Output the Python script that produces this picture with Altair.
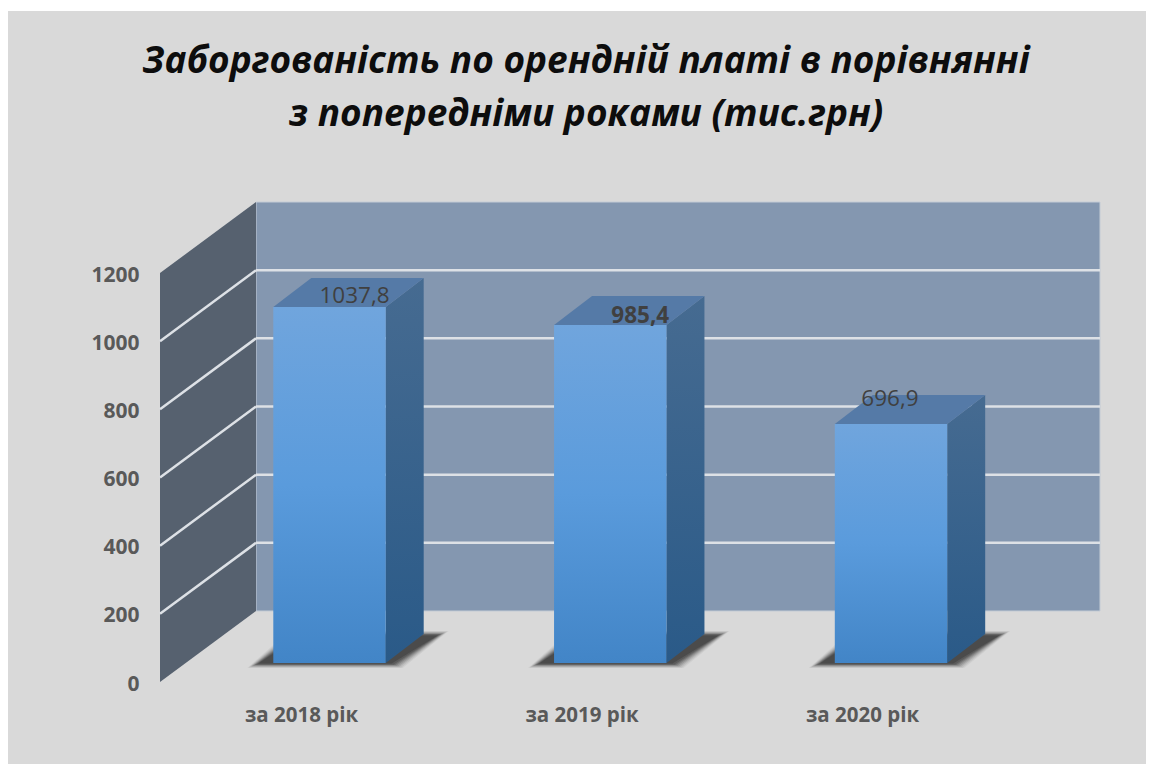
import altair as alt
import pandas as pd

# ---- values ----
categories = ["за 2018 рік", "за 2019 рік", "за 2020 рік"]
values = [1037.8, 985.4, 696.9]
value_labels = ["1037,8", "985,4", "696,9"]
label_bold = [False, True, False]
y_ticks = [0, 200, 400, 600, 800, 1000, 1200]
title_lines = ["Заборгованість по орендній платі в порівнянні",
               "з попередніми роками (тис.грн)"]

# ---- projection of the pseudo-3D scene (image pixels) ----
W, H = 1138, 756
LEFT, RIGHT, TOP, BASE = 160, 1100, 202, 682
PX_PER_VALUE = 0.3408
PX_PER_CAT = 280.5
CAT0_PX = 301
WALL_DX, WALL_DY = 96, 71
BAR_FIRST_PX = 329.5
BAR_STEP_PX = 280.75
BAR_HALF = 56.2
BAR_DEPTH_DX, BAR_DEPTH_DY = 38, 29
BAR_BASE_PX = 663
BAR_SCALE = 0.343
LABEL_SHIFT = [(25, -11), (30, -9), (-1, -25)]


def xu(px):
    return (px - CAT0_PX) / PX_PER_CAT


def yu(px):
    return (BASE - px) / PX_PER_VALUE


cat_expr = "[" + ",".join(f"'{c}'" for c in categories) + "][datum.value]"
x_scale = alt.Scale(domain=[xu(LEFT), xu(RIGHT)], nice=False, zero=False)
y_scale = alt.Scale(domain=[0, yu(TOP)], nice=False, zero=False)
x_axis = alt.Axis(values=[0, 1, 2], labelExpr=cat_expr, title=None, grid=False, domain=False,
                  ticks=False, labelFont="Open Sans", labelFontWeight="bold", labelFontSize=20.5,
                  labelColor="#595959", labelPadding=23)
y_axis = alt.Axis(values=y_ticks, title=None, grid=False, domain=False, ticks=False, format="d",
                  labelFont="Open Sans", labelFontWeight="bold", labelFontSize=21,
                  labelColor="#595959", labelPadding=21, labelOffset=2)
X = alt.X("x:Q", scale=x_scale, axis=x_axis)
Y = alt.Y("y:Q", scale=y_scale, axis=y_axis)
X2 = alt.X2("x2:Q")
Y2 = alt.Y2("y2:Q")


def grad(stops):
    return alt.Gradient(gradient="linear", x1=0, x2=0, y1=0, y2=1,
                        stops=[alt.GradientStop(color=c, offset=o) for o, c in stops])


def para_v(px0, top0, bot0, px1, top1, bot1):
    """Parallelogram with vertical sides."""
    return pd.DataFrame({"x": [xu(px0), xu(px1)], "y": [yu(top0), yu(top1)], "y2": [yu(bot0), yu(bot1)]})


def para_h(py0, l0, r0, py1, l1, r1):
    """Parallelogram with horizontal sides."""
    return pd.DataFrame({"y": [yu(py0), yu(py1)], "x": [xu(l0), xu(l1)], "x2": [xu(r0), xu(r1)]})


layers = []

# white strip above the grey panel
layers.append(alt.Chart(pd.DataFrame({"x": [xu(8)], "x2": [xu(1146)], "y": [yu(8)], "y2": [yu(11)]}))
              .mark_rect(color="white").encode(x=X, x2=X2, y=Y, y2=Y2))

# back wall
back = pd.DataFrame({"x": [xu(LEFT + WALL_DX)], "x2": [xu(RIGHT)],
                     "y": [yu(BASE - WALL_DY)], "y2": [yu(TOP)]})
layers.append(alt.Chart(back).mark_rect(color="#8497b0", stroke="#c4ccd6", strokeWidth=1)
              .encode(x=X, x2=X2, y=Y, y2=Y2))

# side wall
layers.append(alt.Chart(para_v(LEFT, BASE - 1200 * PX_PER_VALUE, BASE, LEFT + WALL_DX, TOP, BASE - WALL_DY))
              .mark_area(color="#56616f").encode(x=X, y=Y, y2=Y2))

# grid on both walls
grid_rows = []
for t in y_ticks[1:-1]:
    grid_rows.append({"x": xu(LEFT + WALL_DX), "x2": xu(RIGHT),
                      "y": t + WALL_DY / PX_PER_VALUE, "y2": t + WALL_DY / PX_PER_VALUE})
    grid_rows.append({"x": xu(LEFT), "x2": xu(LEFT + WALL_DX),
                      "y": t, "y2": t + WALL_DY / PX_PER_VALUE})
layers.append(alt.Chart(pd.DataFrame(grid_rows)).mark_rule(color="#dde1e6", strokeWidth=2.5)
              .encode(x=X, x2=X2, y=Y, y2=Y2))

# bars
for i, v in enumerate(values):
    cx = BAR_FIRST_PX + BAR_STEP_PX * i
    l, r = cx - BAR_HALF, cx + BAR_HALF
    top = BAR_BASE_PX - BAR_SCALE * v
    # soft shadow: nested translucent parallelograms
    for grow, op in [(5, 0.05), (3.5, 0.08), (2, 0.11), (0.5, 0.14), (-1, 0.17), (-2.5, 0.2), (-4, 0.22), (-6, 0.25)]:
        sh = para_h(666 + grow * 0.4, l - 21 - grow, r + 12 + grow,
                    633 - grow * 0.4, l + 21 - grow, r + 58 + grow)
        layers.append(alt.Chart(sh).mark_area(orient="horizontal", color="#1a1a1a", opacity=op)
                      .encode(y=Y, x=X, x2=X2))
    # right side
    layers.append(alt.Chart(para_v(r, top, BAR_BASE_PX,
                                   r + BAR_DEPTH_DX, top - BAR_DEPTH_DY, BAR_BASE_PX - BAR_DEPTH_DY))
                  .mark_area(color=grad([(0, "#466b91"), (1, "#2a5a88")])).encode(x=X, y=Y, y2=Y2))
    # top
    layers.append(alt.Chart(para_h(top, l, r, top - BAR_DEPTH_DY, l + BAR_DEPTH_DX, r + BAR_DEPTH_DX))
                  .mark_area(orient="horizontal", color="#557aa7").encode(y=Y, x=X, x2=X2))
    # front, its height comes from the value
    front = pd.DataFrame({"x": [xu(l)], "x2": [xu(r)], "y": [yu(top)], "y2": [yu(BAR_BASE_PX)],
                          "category": [categories[i]], "value": [v]})
    layers.append(alt.Chart(front)
                  .mark_rect(color=grad([(0, "#70a5dd"), (0.5, "#5a9bdc"), (1, "#4285c7")]))
                  .encode(x=X, x2=X2, y=Y, y2=Y2))
    # value label
    sx, sy = LABEL_SHIFT[i]
    lab = pd.DataFrame({"x": [xu(cx + sx)], "y": [yu(top + sy)], "t": [value_labels[i]]})
    layers.append(alt.Chart(lab)
                  .mark_text(font="Open Sans", fontSize=22.5, color="#404040",
                             fontWeight="bold" if label_bold[i] else "normal")
                  .encode(x=X, y=Y, text="t:N"))

chart = alt.layer(*layers).properties(
    width=RIGHT - LEFT,
    height=BASE - TOP,
    padding={"left": LEFT - 8, "right": 8 + W - RIGHT, "top": TOP - 8, "bottom": 8 + H - BASE},
    autosize=alt.AutoSizeParams(type="none"),
    background="#d9d9d9",
    title=alt.TitleParams(text=title_lines, font="Open Sans", fontSize=37, fontWeight="bold",
                          fontStyle="italic", color="#0d0d0d", anchor="middle", dx=-44, frame="group",
                          lineHeight=53, offset=-126),
).configure_view(stroke=None)

chart.save("out.html", embed_options={"renderer": "svg", "actions": False})
